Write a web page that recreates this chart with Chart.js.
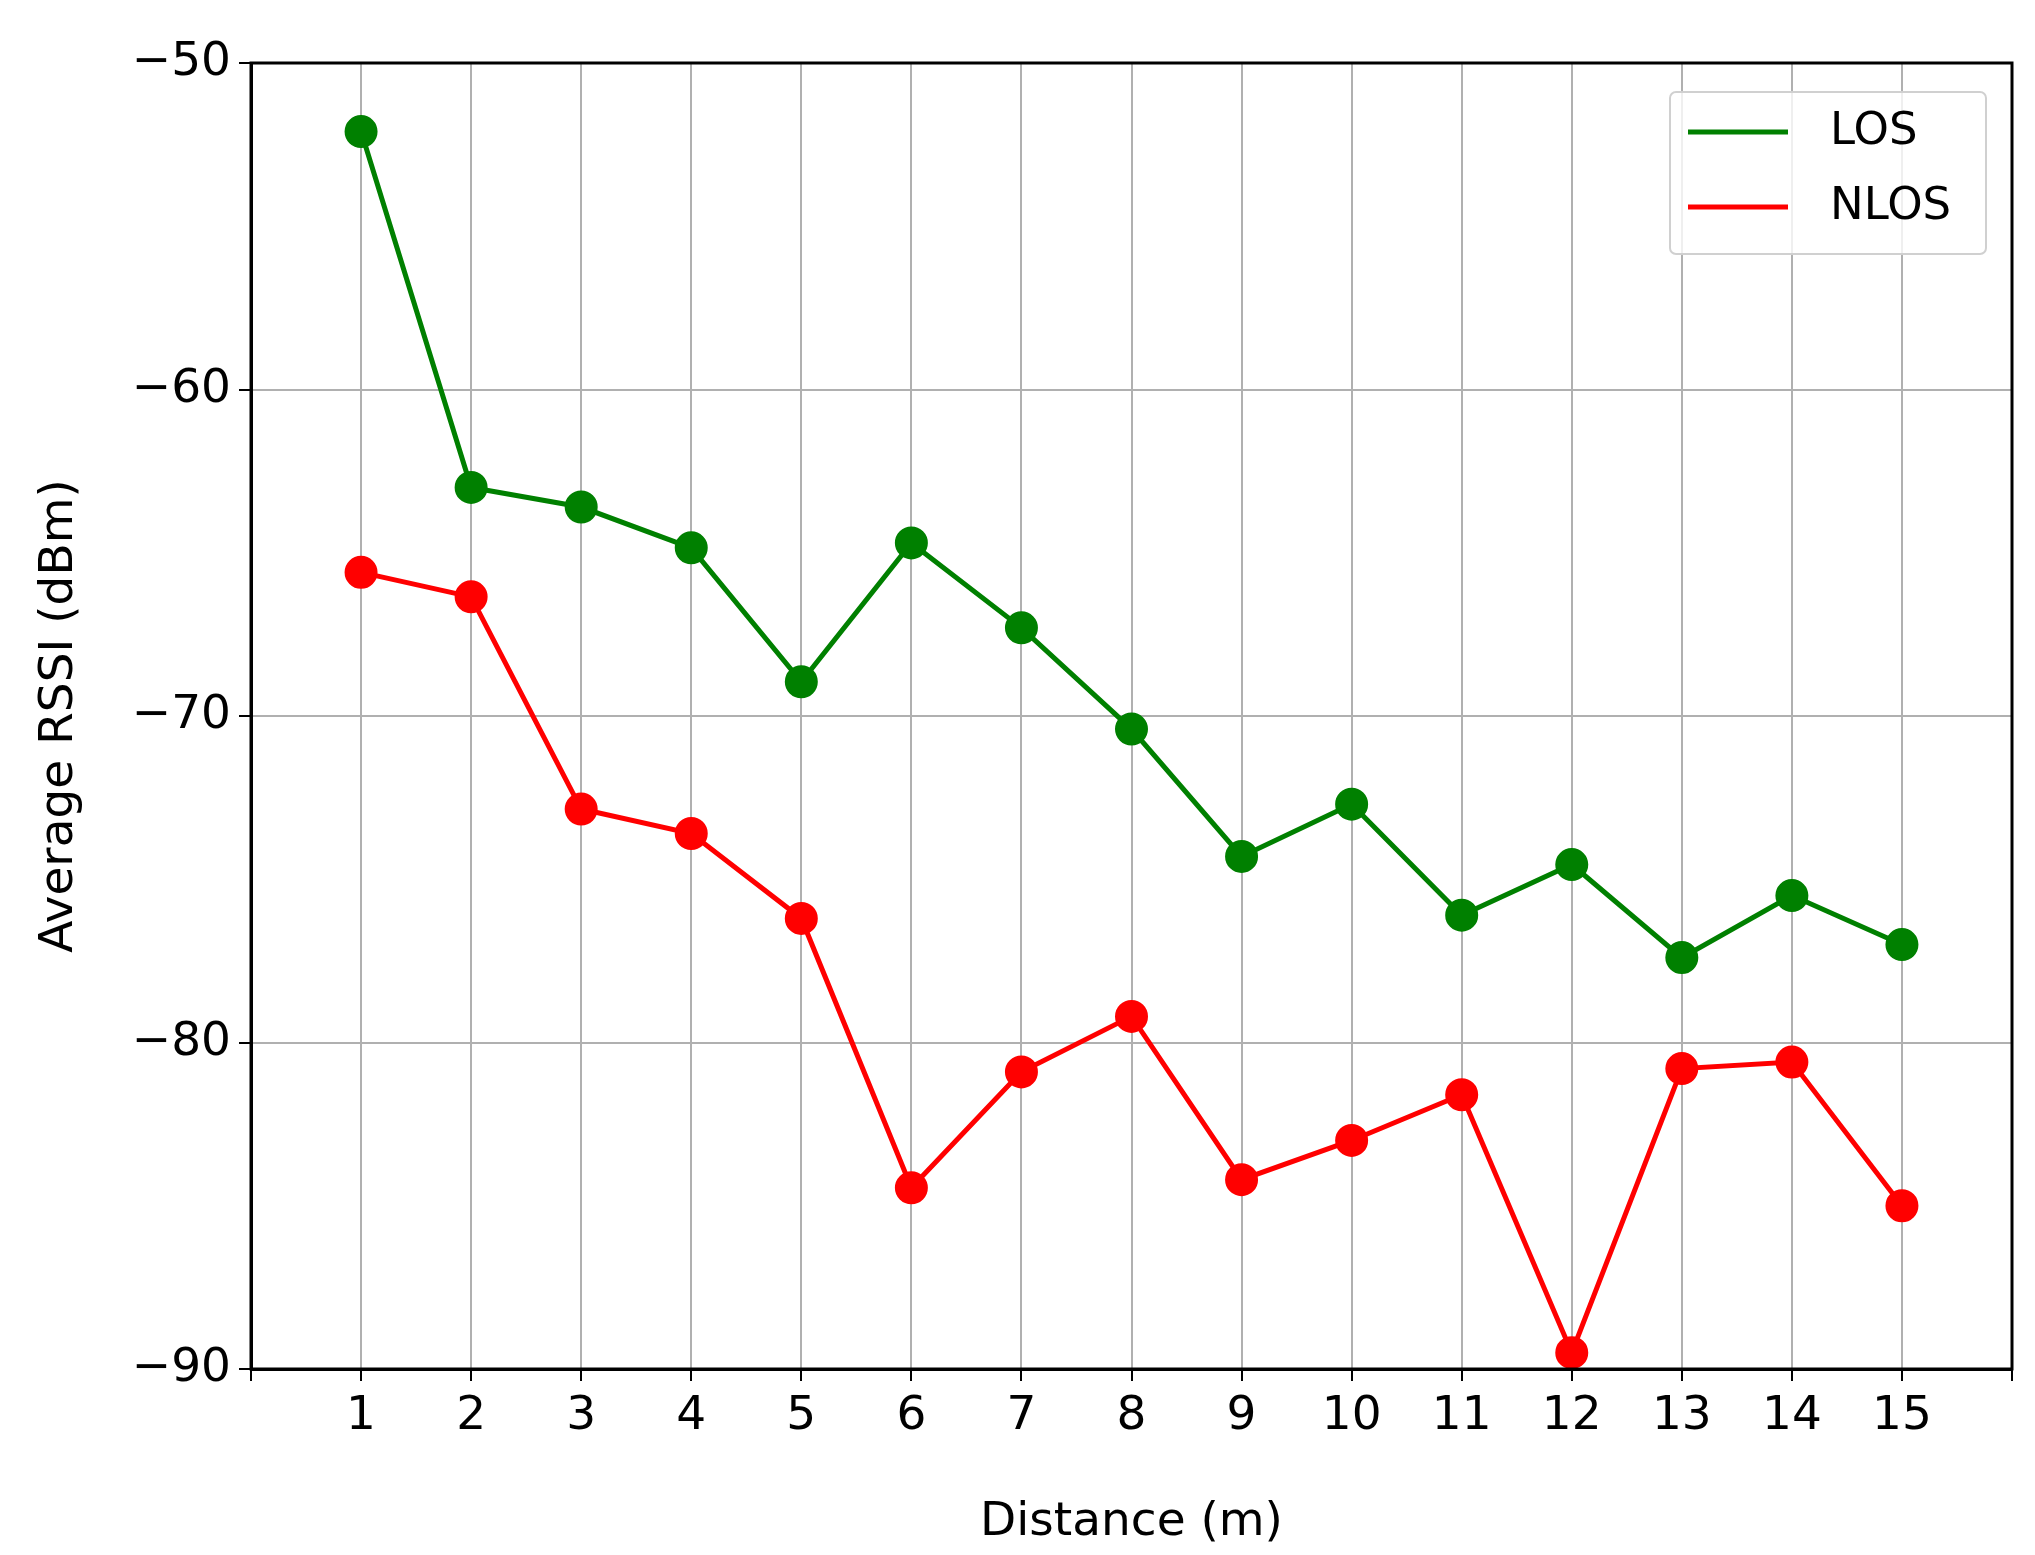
<!DOCTYPE html>
<html><head><meta charset="utf-8">
<script src="https://cdn.jsdelivr.net/npm/chart.js@4"></script>
<style>html,body{margin:0;padding:0;background:#fff}#w{width:2035px;height:1555px}</style>
</head><body><div id="w"><canvas id="c"></canvas></div>
<script>
const distances=[1,2,3,4,5,6,7,8,9,10,11,12,13,14,15];
const losValues=[-52.1,-63.0,-63.6,-64.85,-68.95,-64.7,-67.3,-70.4,-74.3,-72.7,-76.1,-74.55,-77.4,-75.5,-77.0];
const nlosValues=[-65.6,-66.35,-72.85,-73.6,-76.2,-84.45,-80.9,-79.2,-84.2,-83.0,-81.6,-89.5,-80.8,-80.6,-85.0];
const seriesNames=['LOS','NLOS'];
const seriesColors=['#008000','#ff0000'];
const F='"DejaVu Sans"';
const legendPlugin={id:'lg',afterDraw(ch){const c=ch.ctx;const x0=1670,y0=92,w=316,h=162;
c.save();c.fillStyle='rgba(255,255,255,0.8)';c.strokeStyle='#d0d0d0';c.lineWidth=2;
c.beginPath();c.roundRect(x0,y0,w,h,6);c.fill();c.stroke();
c.font='45px '+F;c.textBaseline='middle';
seriesNames.forEach((n,i)=>{const y=y0+40+i*75;c.strokeStyle=seriesColors[i];c.lineWidth=5;
c.beginPath();c.moveTo(x0+18,y);c.lineTo(x0+118,y);c.stroke();c.fillStyle='#000';c.fillText(n,x0+160,y);});
c.restore();}};
new Chart(document.getElementById('c'),{type:'line',
data:{datasets:[0,1].map(i=>({label:seriesNames[i],data:distances.map((d,j)=>({x:d,y:(i?nlosValues:losValues)[j]})),
borderColor:seriesColors[i],backgroundColor:seriesColors[i],borderWidth:5,pointRadius:14,pointHoverRadius:14,tension:0}))},
options:{responsive:true,maintainAspectRatio:false,animation:false,
layout:{padding:{top:63,right:23,left:28,bottom:0}},
plugins:{legend:{display:false},tooltip:{enabled:false}},
scales:{
x:{type:'linear',min:0,max:16,afterFit(s){s.height=186;},
ticks:{stepSize:1,color:'#000',font:{family:F,size:47},padding:8,callback:v=>(v>=1&&v<=15)?String(v):''},
grid:{color:'#b0b0b0',lineWidth:2,tickLength:12,tickColor:'#000'},border:{color:'#000',width:3},
title:{display:true,text:'Distance (m)',color:'#000',font:{family:F,size:47},padding:{top:2}}},
y:{min:-90,max:-50,afterFit(s){s.width=223;},
ticks:{stepSize:10,color:'#000',font:{family:F,size:47},padding:8,callback:v=>'\u2212'+Math.abs(v)},
grid:{color:'#b0b0b0',lineWidth:2,tickLength:12,tickColor:'#000'},border:{color:'#000',width:3},
title:{display:true,text:'Average RSSI (dBm)',color:'#000',font:{family:F,size:47},padding:{bottom:10}}}}},
plugins:[legendPlugin,{id:'frame',afterDraw(ch){const a=ch.chartArea,c=ch.ctx;c.save();c.strokeStyle='#000';c.lineWidth=3;c.strokeRect(a.left,a.top,a.right-a.left,a.bottom-a.top);c.restore();}}]});
</script></body></html>
